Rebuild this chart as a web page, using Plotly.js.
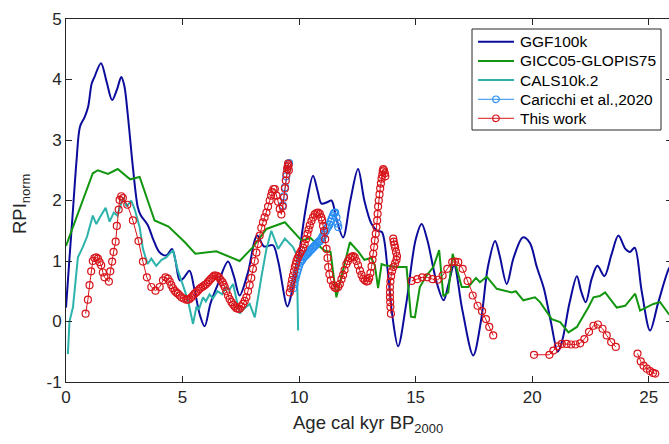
<!DOCTYPE html>
<html>
<head>
<meta charset="utf-8">
<script src="https://cdn.plot.ly/plotly-3.0.1.min.js"></script>
<style>
html,body{margin:0;padding:0;overflow:hidden;background:#fff;width:669px;height:444px;}
#chart{width:674px;height:444px;}
</style>
</head>
<body>
<div id="chart"></div>
<script>
// ---- Data ----
const ggfAge = [0,0.15,0.3,0.45,0.6,0.8,0.95,1.1,1.22,1.5,1.75,1.98,2.2,2.37,2.5,2.66,2.87,3.08,3.2,3.5,3.75,4.0,4.3,4.55,4.7,4.88,5.05,5.3,5.5,5.75,5.95,6.2,6.5,6.95,7.2,7.45,7.8,8.2,8.5,8.88,9.1,9.5,9.7,9.96,10.3,10.6,10.8,10.96,11.2,11.39,11.6,11.89,12.2,12.53,12.8,13.1,13.35,13.55,13.8,14.0,14.25,14.6,15.0,15.26,15.5,15.9,16.2,16.4,16.65,17.0,17.47,17.8,18.1,18.41,18.6,18.91,19.2,19.6,19.9,20.2,20.5,20.8,21.1,21.3,21.6,21.92,22.1,22.3,22.55,22.8,23.1,23.4,23.7,24.0,24.2,24.4,24.7,25.06,25.4,25.85,26];
const ggfRPI = [0.23,1.05,1.85,2.65,3.22,3.38,3.55,3.93,4.04,4.27,3.95,3.66,3.85,4.04,3.9,3.38,2.55,1.89,1.76,1.6,1.35,1.15,1.09,1.2,1.0,0.68,0.72,0.84,0.55,0.1,-0.08,0.3,0.6,0.99,0.75,0.43,0.8,1.42,1.24,1.26,1.0,0.25,0.5,1.01,1.9,2.41,2.15,1.95,1.97,2.0,1.7,1.39,2.0,2.52,2.0,1.62,1.5,1.48,0.85,0.1,-0.41,0.3,1.35,1.61,1.35,0.65,0.35,0.6,0.93,0.2,-0.56,0.0,0.9,1.33,1.1,0.62,1.05,1.39,1.3,0.9,0.55,0.0,-0.5,-0.3,0.3,0.75,0.5,0.32,0.7,0.92,0.75,1.1,1.42,1.2,1.15,1.22,0.5,-0.15,0.3,0.86,0.95];

const gloAge = [0,1.15,1.37,1.8,2.22,2.75,3.16,3.8,4.4,5.1,5.55,6.45,7.45,8.02,8.6,9.39,10.1,10.5,10.7,11.1,11.35,11.6,12.18,12.55,12.8,13.1,13.25,13.39,13.54,13.68,14.2,14.61,14.8,14.97,15.18,15.47,15.76,16.01,16.19,16.4,16.59,16.98,17.26,17.59,17.76,18.05,18.48,18.84,19.12,19.3,19.62,20.12,20.34,20.84,21.2,21.56,21.92,22.42,22.63,22.9,23.13,23.63,23.99,24.42,24.63,25.2,25.49,25.85,26];
const gloRPI = [1.25,2.45,2.5,2.44,2.52,2.35,2.39,1.67,1.57,1.31,1.12,1.16,1.0,1.23,1.53,1.64,1.34,1.38,1.3,1.17,1.15,0.4,1.31,1.15,1.02,1.05,0.93,0.55,0.95,0.93,0.9,0.9,0.08,0.07,0.57,0.76,0.9,1.18,0.42,0.48,1.12,0.57,0.57,0.72,0.65,0.74,0.54,0.51,0.48,0.5,0.35,0.4,0.32,0.04,-0.01,-0.18,-0.09,0.24,0.4,0.42,0.48,0.23,0.26,0.46,0.18,0.29,0.32,0.13,0.08];

const calsAge = [0.08,0.15,0.3,0.4,0.51,0.72,0.9,1.15,1.3,1.45,1.7,1.87,2.05,2.2,2.45,2.6,2.8,2.95,3.16,3.3,3.5,3.66,3.87,4.1,4.3,4.59,4.8,5.02,5.23,5.45,5.6,5.7,5.88,6.0,6.16,6.3,6.5,6.7,6.88,7.0,7.17,7.45,7.6,7.88,8.1,8.38,8.6,8.81,9.1,9.39,9.74,9.9,9.96];
const calsRPI = [-0.54,0.0,0.24,0.65,1.06,1.23,1.4,1.75,1.61,1.72,1.88,1.65,1.8,1.75,2.05,1.9,2.0,1.85,1.56,1.2,0.95,1.04,0.92,1.02,1.06,1.18,0.84,0.6,0.35,-0.04,0.25,0.2,0.4,0.33,0.45,0.38,0.5,0.45,0.57,0.52,0.62,0.13,0.2,0.29,0.07,0.73,1.2,1.5,1.2,1.37,1.23,1.1,-0.15];

const carAge = [9.3,9.35,9.4,9.45,9.5,9.54,9.57,null,9.75,9.8,9.84,9.88,9.92,9.96,10.0,10.05,10.1,10.15,10.2,10.25,10.3,10.35,10.4,10.45,10.5,10.55,10.6,10.65,10.7,10.75,10.8,10.85,10.9,10.95,11.0,11.05,11.1,11.15,11.2,11.25,11.3,11.35,11.4,11.45,11.5,11.55,11.6,11.65,11.68];
const carRPI = [1.92,2.07,2.22,2.4,2.52,2.6,2.62,null,0.55,0.62,0.7,0.76,0.82,0.87,0.92,0.97,1.0,1.03,1.06,1.08,1.1,1.12,1.14,1.16,1.18,1.2,1.22,1.24,1.26,1.28,1.3,1.32,1.33,1.36,1.4,1.43,1.47,1.5,1.54,1.57,1.6,1.65,1.7,1.75,1.79,1.8,1.72,1.62,1.56];

const workAge = [0.84,0.94,1.01,1.08,1.15,1.22,1.3,1.37,1.44,1.51,1.58,1.65,1.84,1.9,1.98,2.04,2.13,2.18,2.26,2.3,2.37,2.44,2.63,2.87,3.11,3.3,3.47,3.66,3.84,4.02,4.16,4.27,4.37,4.45,4.52,4.59,4.66,4.73,4.8,4.88,4.95,5.05,5.16,5.23,5.3,5.38,5.45,5.52,5.59,5.66,5.73,5.8,5.88,5.95,6.02,6.09,6.16,6.23,6.31,6.36,6.42,6.49,6.56,6.63,6.71,6.76,6.81,6.88,6.95,7.02,7.1,7.17,7.24,7.31,7.38,7.45,7.52,7.6,7.67,7.74,7.81,7.88,7.95,8.02,8.1,8.17,8.24,8.31,8.38,8.45,8.52,8.6,8.67,8.74,8.8,8.84,8.9,8.96,9.03,9.1,9.17,9.24,9.3,9.35,9.39,9.43,9.46,9.49,9.51,9.53,9.55,9.56,
  null,
  9.6,9.64,9.67,9.7,9.74,9.78,9.82,9.86,9.89,9.94,9.99,10.04,10.1,10.17,10.24,10.3,10.36,10.41,10.46,10.53,10.6,10.67,10.75,10.82,10.89,10.95,10.99,11.03,11.07,11.12,11.18,11.22,11.25,11.3,11.36,11.46,11.53,11.6,11.68,11.75,11.82,11.89,11.95,12.03,12.1,12.18,12.25,12.32,12.39,12.46,12.53,12.61,12.68,12.75,12.82,12.9,12.96,13.01,13.06,13.11,13.15,13.18,13.22,13.25,13.29,13.32,13.35,13.37,13.39,13.42,13.45,13.48,13.51,13.54,13.57,13.59,13.61,13.64,13.68,13.7,
  null,
  14.04,14.06,14.09,14.12,14.16,14.2,14.18,14.12,14.05,13.99,13.95,13.92,13.9,13.9,13.9,13.91,13.92,13.94,
  null,
  14.83,15.07,15.28,15.5,15.73,15.95,16.16,16.36,16.57,16.69,16.83,17.02,17.23,17.45,17.66,17.85,18.02,18.16,18.33,
  null,
  20.08,20.74,20.91,21.1,21.27,21.48,21.67,21.86,22.06,22.24,22.44,22.63,22.82,23.02,23.2,23.39,23.59,
  null,
  24.52,24.66,24.78,24.92,25.06,25.18,25.28];
const workRPI = [0.13,0.36,0.6,0.83,1.0,1.05,1.06,1.04,0.98,0.93,0.81,0.73,0.66,0.83,0.99,1.15,1.32,1.58,1.85,2.01,2.07,2.04,1.93,1.67,1.33,0.99,0.73,0.57,0.51,0.57,0.68,0.73,0.71,0.66,0.6,0.55,0.51,0.48,0.46,0.43,0.4,0.38,0.36,0.36,0.37,0.4,0.43,0.46,0.48,0.51,0.54,0.56,0.58,0.6,0.62,0.65,0.68,0.71,0.74,0.76,0.76,0.75,0.73,0.69,0.65,0.61,0.57,0.5,0.43,0.37,0.32,0.28,0.25,0.22,0.21,0.21,0.25,0.29,0.34,0.4,0.5,0.6,0.72,0.87,1.0,1.14,1.28,1.42,1.55,1.64,1.72,1.8,1.9,2.0,2.08,2.14,2.19,2.19,2.08,1.98,1.86,1.77,1.9,2.05,2.2,2.33,2.44,2.52,2.56,2.61,2.58,2.5,
  null,
  0.48,0.55,0.62,0.69,0.76,0.83,0.9,0.95,1.0,1.05,1.09,1.13,1.17,1.22,1.28,1.36,1.45,1.52,1.59,1.66,1.72,1.77,1.79,1.8,1.78,1.72,1.67,1.58,1.5,1.36,1.2,1.05,0.9,0.78,0.68,0.6,0.56,0.55,0.57,0.62,0.7,0.77,0.85,0.95,1.0,1.05,1.07,1.08,1.06,1.0,0.93,0.84,0.77,0.71,0.68,0.66,0.67,0.72,0.8,0.91,1.02,1.12,1.23,1.34,1.45,1.56,1.67,1.78,1.9,2.0,2.1,2.2,2.28,2.36,2.42,2.48,2.52,2.5,2.45,2.4,
  null,
  1.37,1.32,1.27,1.22,1.15,1.08,1.02,0.96,0.9,0.83,0.75,0.66,0.57,0.48,0.4,0.32,0.24,0.13,
  null,
  0.67,0.7,0.73,0.73,0.7,0.69,0.76,0.87,0.98,0.99,0.98,0.87,0.67,0.43,0.26,0.17,0.04,-0.09,-0.23,
  null,
  -0.55,-0.55,-0.48,-0.41,-0.37,-0.37,-0.38,-0.38,-0.36,-0.29,-0.17,-0.07,-0.05,-0.12,-0.23,-0.34,-0.42,
  null,
  -0.53,-0.66,-0.73,-0.78,-0.82,-0.85,-0.86];

const seriesNames = ['GGF100k','GICC05-GLOPIS75','CALS10k.2','Caricchi et al.,2020','This work'];
const xTicks = [0,5,10,15,20,25];
const yTicks = [-1,0,1,2,3,4,5];
const xTitle = 'Age cal kyr BP<sub>2000</sub>';
const yTitle = 'RPI<sub>norm</sub>';

// ---- Styles ----
const cGGF = '#0c0c9c', cGLO = '#12960f', cCALS = '#2cb3ab', cCAR = '#2b8ef2', cWORK = '#d8141a';
const seriesColors = [cGGF, cGLO, cCALS, cCAR, cWORK];
const seriesWidths = [2, 2, 2, 1, 1];
const seriesMarker = [false, false, false, true, true];
const FONT = 'Liberation Sans, Arial, Helvetica, sans-serif';
const AX = '#262626';

const traces = [
  {x: ggfAge, y: ggfRPI, name: seriesNames[0], mode: 'lines', line: {color: cGGF, width: 2, shape: 'spline', smoothing: 0.9}},
  {x: gloAge, y: gloRPI, name: seriesNames[1], mode: 'lines', line: {color: cGLO, width: 2}},
  {x: calsAge, y: calsRPI, name: seriesNames[2], mode: 'lines', line: {color: cCALS, width: 2}},
  {x: carAge, y: carRPI, name: seriesNames[3], mode: 'lines+markers', line: {color: cCAR, width: 1},
   marker: {symbol: 'circle-open', size: 7, color: cCAR, line: {width: 1.2, color: cCAR}}},
  {x: workAge, y: workRPI, name: seriesNames[4], mode: 'lines+markers', line: {color: cWORK, width: 1},
   marker: {symbol: 'circle-open', size: 7, color: cWORK, line: {width: 1.2, color: cWORK}}}
];

// ---- Legend drawn as a box (pixel geometry of the figure) ----
const M = {l: 66, r: 2, t: 19, b: 62}, W = 674, H = 444;
const PW = W - M.l - M.r, PH = H - M.t - M.b;
const px = v => (v - M.l) / PW;
const py = v => (H - M.b - v) / PH;
const legRowsY = [41.7, 61, 80, 99.3, 118.3];
const shapes = [{type: 'rect', xref: 'paper', yref: 'paper', x0: px(472), x1: px(661), y0: py(130), y1: py(29),
                 line: {color: AX, width: 1}, fillcolor: '#ffffff', layer: 'above'}];
const annotations = [];
seriesNames.forEach((nm, i) => {
  shapes.push({type: 'line', xref: 'paper', yref: 'paper', x0: px(478), x1: px(514), y0: py(legRowsY[i]), y1: py(legRowsY[i]),
               line: {color: seriesColors[i], width: seriesWidths[i]}, layer: 'above'});
  if (seriesMarker[i]) {
    shapes.push({type: 'circle', xref: 'paper', yref: 'paper', xsizemode: 'pixel', ysizemode: 'pixel',
                 xanchor: px(496), yanchor: py(legRowsY[i]), x0: -3.3, x1: 3.3, y0: -3.3, y1: 3.3,
                 line: {color: seriesColors[i], width: 1.2}, fillcolor: 'rgba(0,0,0,0)', layer: 'above'});
  }
  annotations.push({text: nm, xref: 'paper', yref: 'paper', x: px(518), y: py(legRowsY[i]), xanchor: 'left', yanchor: 'middle',
                    showarrow: false, font: {family: FONT, size: 15.5, color: '#000'}});
});
annotations.push({text: xTitle, xref: 'paper', yref: 'paper', x: px(368), y: py(410), xanchor: 'center', yanchor: 'top',
                  showarrow: false, font: {family: FONT, size: 18.5, color: AX}});
annotations.push({text: yTitle, xref: 'paper', yref: 'paper', x: px(21), y: py(204), xanchor: 'center', yanchor: 'middle',
                  textangle: -90, showarrow: false, font: {family: FONT, size: 18.5, color: AX}});

const layout = {
  width: W, height: H,
  margin: M,
  paper_bgcolor: '#ffffff', plot_bgcolor: '#ffffff',
  font: {family: FONT, color: AX, size: 16},
  showlegend: false,
  shapes: shapes,
  annotations: annotations,
  xaxis: {range: [0, 26], tickvals: xTicks, ticktext: xTicks.map(String), ticks: 'inside', ticklen: 6,
          tickcolor: AX, showline: true, linecolor: AX, linewidth: 1, mirror: 'allticks',
          showgrid: false, zeroline: false, tickfont: {size: 17, color: AX}},
  yaxis: {range: [-1, 5], tickvals: yTicks, ticktext: yTicks.map(String), ticks: 'inside', ticklen: 6,
          tickcolor: AX, showline: true, linecolor: AX, linewidth: 1, mirror: 'allticks',
          showgrid: false, zeroline: false, tickfont: {size: 17, color: AX}}
};

Plotly.newPlot('chart', traces, layout, {displayModeBar: false, staticPlot: true});
</script>
</body>
</html>
